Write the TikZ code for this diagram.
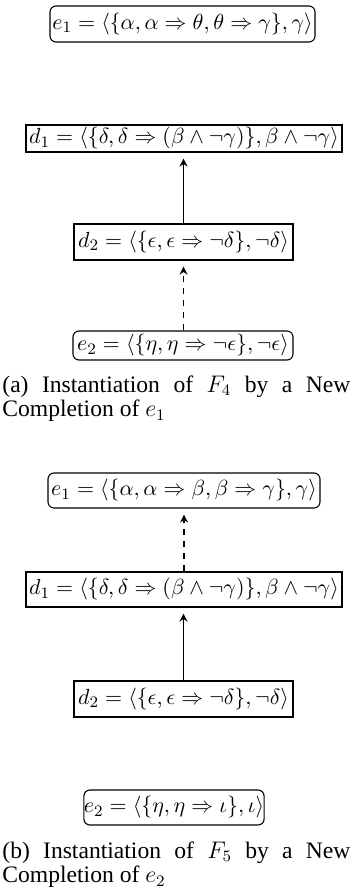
\documentclass[tikz,border=0pt]{standalone}
\usepackage[no-math]{fontspec}
\setmainfont{Liberation Serif}
\usetikzlibrary{arrows.meta}
\begin{document}
\begin{tikzpicture}[x=0.5pt,y=-0.5pt,
  bx/.style={draw, line width=0.55pt, inner sep=0pt, font=\fontsize{10.9}{13}\selectfont},
  rbox/.style={bx, rounded corners=3pt},
  sbox/.style={bx},
  arr/.style={line width=0.6pt, -{Stealth[length=4pt,width=4pt]}, shorten >=3pt},
  dsh/.style={arr, dashed},
  captxt/.style={anchor=north west, inner sep=0pt, text width=174pt, align=justify,
    font=\fontsize{11.8}{12.2}\selectfont}]
\useasboundingbox (0,0) rectangle (352,888);
% (a)
\node[rbox, minimum width=132.5pt, minimum height=18pt] (ea1) at (182.5,24)
  {$e_1 = \langle\{\alpha, \alpha \Rightarrow \theta, \theta \Rightarrow \gamma\}, \gamma\rangle$};
\node[sbox, minimum width=158pt, minimum height=13.5pt] (d1a) at (184,138.5)
  {$d_1 = \langle\{\delta, \delta \Rightarrow (\beta \wedge \neg\gamma)\}, \beta \wedge \neg\gamma\rangle$};
\node[sbox, minimum width=109.5pt, minimum height=18pt] (d2a) at (183.5,242)
  {$d_2 = \langle\{\epsilon, \epsilon \Rightarrow \neg\delta\}, \neg\delta\rangle$};
\node[rbox, minimum width=110pt, minimum height=14.5pt] (e2a) at (183,345.5)
  {$e_2 = \langle\{\eta, \eta \Rightarrow \neg\epsilon\}, \neg\epsilon\rangle$};
\draw[arr] (d2a.north) -- (d2a.north |- d1a.south);
\draw[dsh] (e2a.north -| d2a.north) -- (d2a.south);
\node[captxt] (capa) at (2,375) {(a) Instantiation of $F_4$ by a New\linebreak Completion of $e_1$};
% (b)
\node[rbox, minimum width=136pt, minimum height=17.5pt] (eb1) at (184,490.5)
  {$e_1 = \langle\{\alpha, \alpha \Rightarrow \beta, \beta \Rightarrow \gamma\}, \gamma\rangle$};
\node[sbox, minimum width=158pt, minimum height=17.5pt] (d1b) at (184,589.5)
  {$d_1 = \langle\{\delta, \delta \Rightarrow (\beta \wedge \neg\gamma)\}, \beta \wedge \neg\gamma\rangle$};
\node[sbox, minimum width=109.5pt, minimum height=18pt] (d2b) at (183.5,699)
  {$d_2 = \langle\{\epsilon, \epsilon \Rightarrow \neg\delta\}, \neg\delta\rangle$};
\node[rbox, minimum width=85pt, minimum height=17.5pt] (e2b) at (174,807.5)
  {$e_2 = \langle\{\eta, \eta \Rightarrow \iota\}, \iota\rangle$};
\draw[arr] (d2b.north) -- (d2b.north |- d1b.south);
\draw[dsh] (d1b.north) -- (d1b.north |- eb1.south);
\node[captxt] (capb) at (2,841) {(b) Instantiation of $F_5$ by a New\linebreak Completion of $e_2$};
\end{tikzpicture}
\end{document}
